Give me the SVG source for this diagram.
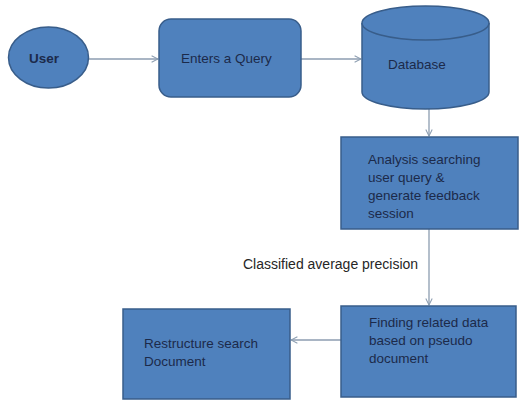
<svg xmlns="http://www.w3.org/2000/svg" width="528" height="401" viewBox="0 0 528 401">
<style>
.n{fill:#4f81bd;stroke:#385d8a;stroke-width:1.5}
.t{font-family:"Liberation Sans",Arial,sans-serif;font-size:13.5px;fill:#1c2a4a}
.c{stroke:#8c9db0;stroke-width:1.3;fill:none}
</style>
<defs>
<marker id="a" viewBox="0 0 10 10" refX="9" refY="5" markerWidth="8" markerHeight="8" orient="auto" markerUnits="userSpaceOnUse">
<path d="M1,1 L9,5 L1,9" fill="none" stroke="#8c9db0" stroke-width="1.3"/>
</marker>
</defs>
<rect width="528" height="401" fill="#fff"/>
<g id="connectors">
<line class="c" x1="89" y1="59" x2="158" y2="59" marker-end="url(#a)"/>
<line class="c" x1="301" y1="59" x2="361" y2="59" marker-end="url(#a)"/>
<line class="c" x1="429" y1="109" x2="429" y2="136" marker-end="url(#a)"/>
<line class="c" x1="429" y1="229" x2="429" y2="305" marker-end="url(#a)"/>
<line class="c" x1="341" y1="340" x2="291" y2="340" marker-end="url(#a)"/>
</g>
<g id="user">
<ellipse class="n" cx="48.5" cy="57.5" rx="40" ry="30.5"/>
<text class="t" x="29" y="63" font-weight="bold">User</text>
</g>
<g id="query">
<rect class="n" x="159" y="19" width="142" height="78" rx="12"/>
<text class="t" x="181" y="63">Enters a Query</text>
</g>
<g id="database">
<path class="n" d="M362,23 L362,92 A63.5,17 0 0 0 489,92 L489,23 A63.5,17 0 0 0 362,23 Z"/>
<path class="n" d="M362,23 A63.5,17 0 0 0 489,23" fill="none"/>
<text class="t" x="388" y="69">Database</text>
</g>
<g id="analysis">
<rect class="n" x="341" y="137" width="177" height="92"/>
<text class="t" x="368" y="164">Analysis searching</text>
<text class="t" x="368" y="182">user query &amp;</text>
<text class="t" x="368" y="200">generate feedback</text>
<text class="t" x="368" y="218">session</text>
</g>
<g id="label">
<text class="t" x="243" y="269" style="font-size:14px;fill:#262626">Classified average precision</text>
</g>
<g id="finding">
<rect class="n" x="341" y="306" width="175" height="91"/>
<text class="t" x="369" y="327">Finding related data</text>
<text class="t" x="369" y="345">based on pseudo</text>
<text class="t" x="369" y="363">document</text>
</g>
<g id="restructure">
<rect class="n" x="123" y="309" width="167" height="90"/>
<text class="t" x="144" y="348">Restructure search</text>
<text class="t" x="144" y="366">Document</text>
</g>
</svg>
